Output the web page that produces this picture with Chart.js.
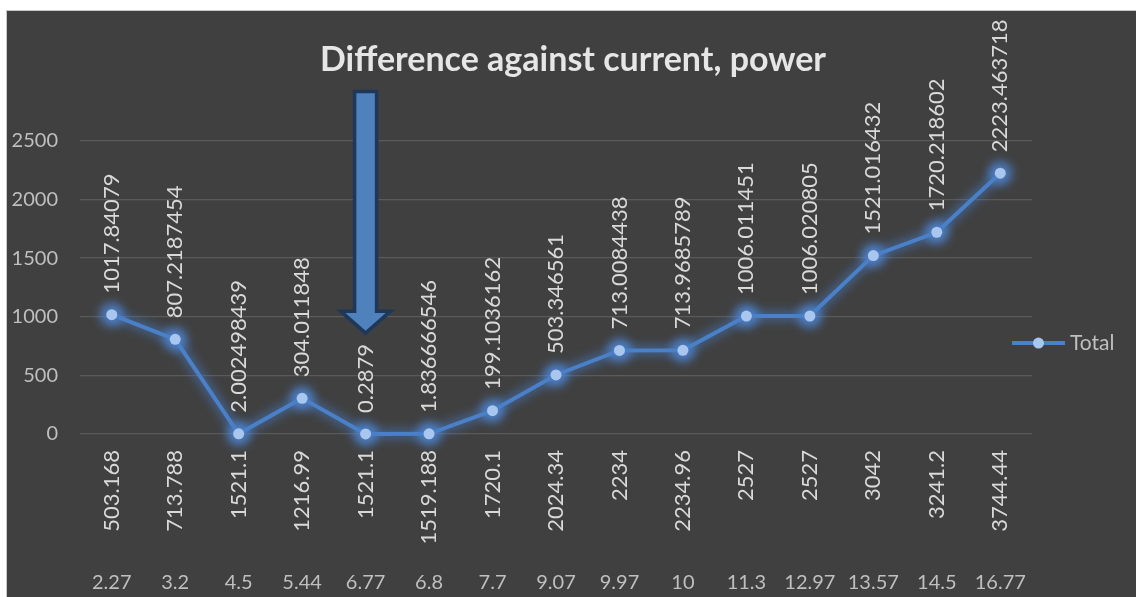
<!DOCTYPE html>
<html>
<head>
<meta charset="utf-8">
<script src="https://cdn.jsdelivr.net/npm/chart.js@4.4.1/dist/chart.umd.min.js"></script>
<style>
  html, body { margin: 0; padding: 0; background: #ffffff; width: 1136px; height: 597px; overflow: hidden; }
  #wrap { position: absolute; left: 6px; top: 10px; width: 1130px; height: 587px;
          border-left: 1px solid #c8c8c8; border-top: 1px solid #c8c8c8; background: #404040; }
  canvas { display: block; }
</style>
</head>
<body>
<div id="wrap"><canvas id="c" width="1129" height="586"></canvas></div>
<script>
// ---- data ----
const currentLabels = ['2.27', '3.2', '4.5', '5.44', '6.77', '6.8', '7.7', '9.07', '9.97', '10', '11.3', '12.97', '13.57', '14.5', '16.77'];
const powerLabels = ['503.168', '713.788', '1521.1', '1216.99', '1521.1', '1519.188', '1720.1', '2024.34', '2234', '2234.96', '2527', '2527', '3042', '3241.2', '3744.44'];
const totalValues = [1017.84079, 807.2187454, 2.002498439, 304.011848, 0.2879, 1.836666546, 199.1036162, 503.346561, 713.0084438, 713.9685789, 1006.011451, 1006.020805, 1521.016432, 1720.218602, 2223.463718];
const seriesName = 'Total';
const yTicks = [0, 500, 1000, 1500, 2000, 2500];
// arrow annotation, in data terms: category index and value range
const arrowIndex = 4;
const arrowTopValue = 2920;
const arrowTipValue = 860;

const FONT = 'Lato';
const LINE = '#4a80c8';
const POINT = '#a9c6ee';

const glowPlugin = {
  id: 'glow',
  beforeDatasetsDraw(chart) {
    const ctx = chart.ctx;
    const pts = chart.getDatasetMeta(0).data;
    ctx.save();
    ctx.filter = 'blur(5px)';
    ctx.strokeStyle = 'rgba(70,130,215,0.45)';
    ctx.lineWidth = 11;
    ctx.lineJoin = 'round';
    ctx.beginPath();
    pts.forEach((p, i) => { if (i === 0) ctx.moveTo(p.x, p.y); else ctx.lineTo(p.x, p.y); });
    ctx.stroke();
    ctx.fillStyle = 'rgba(80,140,225,0.75)';
    pts.forEach(p => { ctx.beginPath(); ctx.arc(p.x, p.y, 12, 0, Math.PI * 2); ctx.fill(); });
    ctx.restore();
  }
};

const labelsPlugin = {
  id: 'valueLabels',
  afterDatasetsDraw(chart) {
    const ctx = chart.ctx;
    const meta = chart.getDatasetMeta(0);
    const ds = chart.data.datasets[0];
    ctx.save();
    ctx.font = '22px ' + FONT;
    ctx.fillStyle = '#d9d9d9';
    ctx.textAlign = 'left';
    ctx.textBaseline = 'middle';
    meta.data.forEach((pt, i) => {
      ctx.save();
      ctx.translate(pt.x, pt.y - 21);
      ctx.rotate(-Math.PI / 2);
      ctx.fillText(String(ds.data[i]), 0, 0);
      ctx.restore();
    });
    ctx.restore();
  }
};

const arrowPlugin = {
  id: 'arrow',
  afterDatasetsDraw(chart) {
    const ctx = chart.ctx;
    const xs = chart.scales.x, ys = chart.scales.y;
    const cx = xs.getPixelForValue(arrowIndex);
    const top = ys.getPixelForValue(arrowTopValue);
    const tip = ys.getPixelForValue(arrowTipValue);
    const sw = 11, hw = 25, hh = 22;
    ctx.save();
    ctx.beginPath();
    ctx.moveTo(cx - sw, top);
    ctx.lineTo(cx + sw, top);
    ctx.lineTo(cx + sw, tip - hh);
    ctx.lineTo(cx + hw, tip - hh);
    ctx.lineTo(cx, tip);
    ctx.lineTo(cx - hw, tip - hh);
    ctx.lineTo(cx - sw, tip - hh);
    ctx.closePath();
    ctx.fillStyle = '#4f81bd';
    ctx.fill();
    ctx.lineWidth = 3.5;
    ctx.strokeStyle = '#1f3758';
    ctx.lineJoin = 'miter';
    ctx.stroke();
    ctx.restore();
  }
};

const legendPlugin = {
  id: 'customLegend',
  afterDraw(chart) {
    const ctx = chart.ctx;
    const ca = chart.chartArea;
    const ds = chart.data.datasets[0];
    const y = ca.top + (ca.bottom - ca.top) * 0.69;
    const x0 = ca.right - 20, x1 = x0 + 53;
    ctx.save();
    ctx.strokeStyle = ds.borderColor;
    ctx.lineWidth = 4;
    ctx.beginPath(); ctx.moveTo(x0, y); ctx.lineTo(x1, y); ctx.stroke();
    ctx.fillStyle = ds.pointBackgroundColor;
    ctx.beginPath(); ctx.arc((x0 + x1) / 2, y, 5.5, 0, Math.PI * 2); ctx.fill();
    ctx.font = '21px ' + FONT;
    ctx.fillStyle = '#bfbfbf';
    ctx.textAlign = 'left';
    ctx.textBaseline = 'middle';
    ctx.fillText(ds.label, x1 + 5, y);
    ctx.restore();
  }
};

new Chart(document.getElementById('c'), {
  type: 'line',
  data: {
    labels: powerLabels,
    datasets: [{
      label: seriesName,
      data: totalValues,
      borderColor: LINE,
      borderWidth: 4,
      pointBackgroundColor: POINT,
      pointBorderColor: POINT,
      pointBorderWidth: 0,
      pointRadius: 5.5,
      tension: 0,
      clip: 20,
      xAxisID: 'x',
      yAxisID: 'y'
    }]
  },
  options: {
    responsive: false,
    animation: false,
    devicePixelRatio: 1,
    layout: { padding: { left: 3, right: 0, top: 0, bottom: 0 } },
    plugins: {
      legend: { display: false },
      tooltip: { enabled: false },
      title: {
        display: true,
        text: 'Difference against current, power',
        color: '#e6e6e6',
        font: { family: FONT, size: 34, weight: 'bold' },
        padding: { top: 29, bottom: 60 }
      }
    },
    scales: {
      y: {
        min: 0, max: 2500,
        afterBuildTicks(scale) { scale.ticks = yTicks.map(v => ({ value: v })); },
        afterFit(scale) { scale.width = 70; },
        grid: { color: '#5a5a5a', lineWidth: 1.2, drawTicks: false },
        border: { display: false },
        ticks: { color: '#bfbfbf', font: { family: FONT, size: 20 }, padding: 22,
                 callback: (v) => String(v) }
      },
      legendSpace: {
        type: 'linear',
        position: 'right',
        display: true,
        afterFit(scale) { scale.width = 104; },
        grid: { display: false, drawTicks: false },
        border: { display: false },
        ticks: { display: false }
      },
      x: {
        type: 'category',
        position: 'bottom',
        weight: 0,
        offset: true,
        afterFit(scale) { scale.height = 120; },
        grid: { display: false, drawTicks: false },
        border: { display: false },
        ticks: { color: '#d9d9d9', font: { family: FONT, size: 22 }, padding: 16,
                 autoSkip: false, minRotation: 90, maxRotation: 90 }
      },
      x2: {
        type: 'category',
        position: 'bottom',
        weight: 1,
        offset: true,
        labels: currentLabels,
        afterFit(scale) { scale.height = 43; },
        grid: { display: false, drawTicks: false },
        border: { display: false },
        ticks: { color: '#bfbfbf', font: { family: FONT, size: 20 }, padding: 17,
                 autoSkip: false, maxRotation: 0, minRotation: 0 }
      }
    }
  },
  plugins: [glowPlugin, labelsPlugin, arrowPlugin, legendPlugin]
});
</script>
</body>
</html>
